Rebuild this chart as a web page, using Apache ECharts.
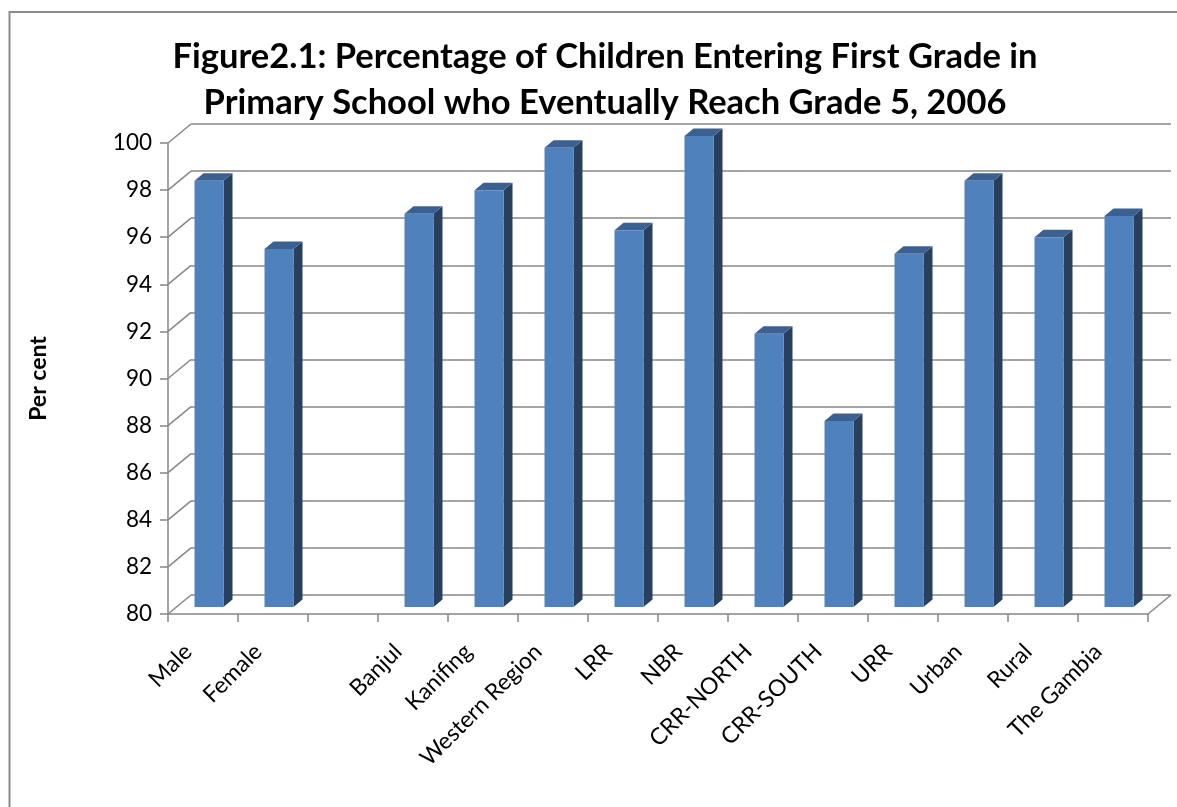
<!DOCTYPE html>
<html>
<head>
<meta charset="utf-8">
<title>Figure2.1</title>
<script src="https://cdn.jsdelivr.net/npm/echarts@6/dist/echarts.min.js"></script>
<style>
  html, body { margin: 0; padding: 0; background: #ffffff; }
  #chart { width: 1177px; height: 807px; }
</style>
</head>
<body>
<div id="chart"></div>
<script>
// Categories (an empty slot separates the sex breakdown from the regions)
const categories = ['Male', 'Female', '', 'Banjul', 'Kanifing', 'Western Region', 'LRR', 'NBR',
  'CRR-NORTH', 'CRR-SOUTH', 'URR', 'Urban', 'Rural', 'The Gambia'];
// Per cent reaching grade 5
const percentValues = [98.1, 95.2, null, 96.7, 97.7, 99.5, 96.0, 100.0, 91.6, 87.9, 95.0, 98.1, 95.7, 96.6];
// Value axis ticks
const yTicks = [80, 82, 84, 86, 88, 90, 92, 94, 96, 98, 100];

const Y_MIN = yTicks[0];
const Y_MAX = yTicks[yTicks.length - 1];
const Y_STEP = yTicks[1] - yTicks[0];

// Pseudo-3D geometry (pixels)
const WALL_DX = 23, WALL_DY = -19;      // front edge -> back wall
const BAR_SHIFT_X = 6, BAR_SHIFT_Y = -7; // bar front face inside the box
const BAR_W = 29;
const BAR_DX = 9, BAR_DY = -7.5;         // bar depth
const FRONT = '#4f81bd', SIDE = '#283f5e', TOP = '#3a6192';
const LINE = '#878787';
const FONT = 'Lato, "Noto Sans", sans-serif';

const barData = [];
percentValues.forEach((v, i) => { if (v !== null) barData.push([i, v]); });
const tickData = yTicks.map(v => [0, v]);

function renderBar(params, api) {
  const i = api.value(0), v = api.value(1);
  const top = api.coord([i, v]);
  const base = api.coord([i, Y_MIN]);
  const x0 = top[0] + BAR_SHIFT_X - BAR_W / 2;
  const x1 = x0 + BAR_W;
  const yT = top[1] + BAR_SHIFT_Y;
  const yB = base[1] + BAR_SHIFT_Y;
  return {
    type: 'group',
    children: [
      { type: 'polygon', shape: { points: [[x1, yT], [x1 + BAR_DX, yT + BAR_DY], [x1 + BAR_DX, yB + BAR_DY], [x1, yB]] },
        style: { fill: SIDE } },
      { type: 'polygon', shape: { points: [[x0, yT], [x1, yT], [x1 + BAR_DX, yT + BAR_DY], [x0 + BAR_DX, yT + BAR_DY]] },
        style: { fill: TOP } },
      { type: 'rect', shape: { x: x0, y: yT, width: BAR_W, height: yB - yT }, style: { fill: FRONT } }
    ]
  };
}

// Side wall connectors from each front tick to the back wall, plus the floor's right edge
function renderWall(params, api) {
  const v = api.value(1);
  const cs = params.coordSys;
  const y = api.coord([0, v])[1];
  const children = [
    { type: 'line', shape: { x1: cs.x, y1: y, x2: cs.x + WALL_DX, y2: y + WALL_DY },
      style: { stroke: LINE, lineWidth: 1.5 } }
  ];
  if (v === Y_MIN) {
    const xr = cs.x + cs.width;
    children.push({ type: 'line', shape: { x1: xr, y1: y, x2: xr + WALL_DX, y2: y + WALL_DY },
      style: { stroke: LINE, lineWidth: 1.5 } });
  }
  return { type: 'group', children };
}

const chart = echarts.init(document.getElementById('chart'), null, { renderer: 'canvas' });

chart.setOption({
  backgroundColor: '#ffffff',
  animation: false,
  title: {
    text: 'Figure2.1: Percentage of Children Entering First Grade in\nPrimary School who Eventually Reach Grade 5, 2006',
    left: 600,
    top: 29,
    textAlign: 'center',
    textStyle: { fontFamily: FONT, fontWeight: 'bold', fontSize: 34.5, lineHeight: 46, color: '#000' }
  },
  graphic: [
    { type: 'rect', shape: { x: 9.5, y: 12, width: 1200, height: 820 },
      style: { fill: null, stroke: '#8c8c8c', lineWidth: 2 }, z: -10 }
  ],
  grid: [
    // back wall
    { left: 191, right: 6, top: 124, bottom: 212 },
    // front edge
    { left: 168, right: 29, top: 143, bottom: 193 }
  ],
  xAxis: [
    { gridIndex: 0, type: 'category', data: categories, show: false },
    {
      gridIndex: 1, type: 'category', data: categories, boundaryGap: true,
      axisLine: { show: true, lineStyle: { color: LINE, width: 1.5 } },
      axisTick: { show: true, interval: 0, length: 8, lineStyle: { color: LINE, width: 1.5 } },
      axisLabel: {
        interval: 0, rotate: 45, margin: 19, padding: [0, 21, 0, 0],
        fontFamily: FONT, fontSize: 23, color: '#000'
      },
      splitLine: { show: false }
    }
  ],
  yAxis: [
    {
      gridIndex: 0, type: 'value', min: Y_MIN, max: Y_MAX, interval: Y_STEP,
      axisLine: { show: false }, axisTick: { show: false }, axisLabel: { show: false },
      splitLine: { show: true, lineStyle: { color: LINE, width: 1.5 } }
    },
    {
      gridIndex: 1, type: 'value', min: Y_MIN, max: Y_MAX, interval: Y_STEP,
      name: 'Per cent', nameLocation: 'middle', nameRotate: 90, nameGap: 118,
      nameTextStyle: { fontFamily: FONT, fontWeight: 'bold', fontSize: 23, color: '#000' },
      axisLine: { show: true, lineStyle: { color: LINE, width: 1.5 } },
      axisTick: { show: true, length: 8, lineStyle: { color: LINE, width: 1.5 } },
      axisLabel: { margin: 16, fontFamily: FONT, fontSize: 22.5, color: '#000' },
      splitLine: { show: false }
    }
  ],
  series: [
    {
      type: 'custom', name: 'wall', xAxisIndex: 1, yAxisIndex: 1,
      renderItem: renderWall, data: tickData, clip: false, silent: true, z: 1
    },
    {
      type: 'custom', name: 'Per cent', xAxisIndex: 1, yAxisIndex: 1,
      renderItem: renderBar, data: barData, clip: false, z: 3
    }
  ]
});
</script>
</body>
</html>
